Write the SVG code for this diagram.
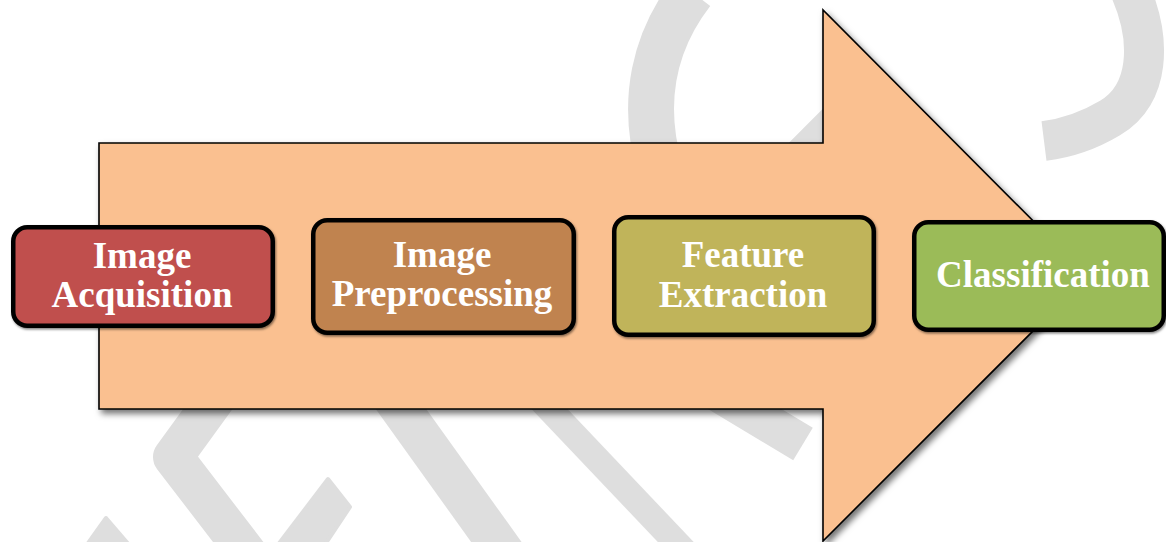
<svg xmlns="http://www.w3.org/2000/svg" width="1166" height="542" viewBox="0 0 1166 542">
  <style>
    .wm { fill: none; stroke: #dedede; }
    .wmf { fill: #dedede; stroke: #dedede; stroke-width: 4; stroke-linejoin: round; }
    .box { stroke: #000; stroke-width: 4.5; filter: url(#boxShadow); }
    .label { font-family: "Liberation Serif", "Times New Roman", serif; font-weight: bold; font-size: 37px; fill: #fff; text-anchor: middle; }
  </style>
  <defs>
    <filter id="arrowShadow" x="-10%" y="-10%" width="120%" height="120%">
      <feDropShadow dx="3" dy="4" stdDeviation="3" flood-color="#000" flood-opacity="0.55"/>
    </filter>
    <filter id="boxShadow" x="-5%" y="-5%" width="110%" height="115%">
      <feDropShadow dx="1" dy="1.5" stdDeviation="1" flood-color="#000" flood-opacity="0.5"/>
    </filter>
  </defs>

  <rect width="1166" height="542" fill="#fff"/>

  <!-- faint background marks -->
  <g id="watermark">
    <path class="wm" stroke-width="40" d="M1130,-10 C1152,40 1150,95 1110,118 C1090,130 1068,138 1044,141"/>
    <path class="wm" stroke-width="46" d="M692,-8 C655,40 640,100 660,170"/>
    <path class="wm" stroke-width="40" d="M760,200 L840,120"/>
    <path class="wm" stroke-width="40" stroke-linejoin="round" d="M218,395 L173,457 L252,560"/>
    <polygon class="wmf" points="106,518 130,546 86,546"/>
    <polygon class="wmf" points="328,479 350,507 324,546 277,546"/>
    <path class="wm" stroke-width="41" d="M330,310 L520,575"/>
    <path class="wm" stroke-width="26" d="M540,399 L690,557"/>
    <path class="wm" stroke-width="38" d="M640,346 L803,444"/>
  </g>

  <!-- large flow arrow behind the steps -->
  <g id="connectors">
    <polygon points="99,143 823,143 823,10 1088,276 823,541 823,409 99,409"
             fill="#fac090" stroke="#000" stroke-width="1.6" stroke-linejoin="miter"
             filter="url(#arrowShadow)"/>
  </g>

  <g id="node-acquisition">
    <rect class="box" x="13.25" y="227.25" width="259.5" height="98.5" rx="14" fill="#c0504d"/>
    <text class="label" x="142" y="268">Image</text>
    <text class="label" x="142" y="306.5">Acquisition</text>
  </g>

  <g id="node-preprocessing">
    <rect class="box" x="313.25" y="220.25" width="260.5" height="112.5" rx="14" fill="#c0834f"/>
    <text class="label" x="442" y="267">Image</text>
    <text class="label" x="442" y="306">Preprocessing</text>
  </g>

  <g id="node-feature">
    <rect class="box" x="614.25" y="217.25" width="259.5" height="117.5" rx="14" fill="#c0b45a"/>
    <text class="label" x="743" y="267">Feature</text>
    <text class="label" x="743" y="306.5">Extraction</text>
  </g>

  <g id="node-classification">
    <rect class="box" x="914.25" y="222.25" width="249.5" height="107.5" rx="14" fill="#9bbb59"/>
    <text class="label" x="1043" y="287">Classification</text>
  </g>
</svg>
